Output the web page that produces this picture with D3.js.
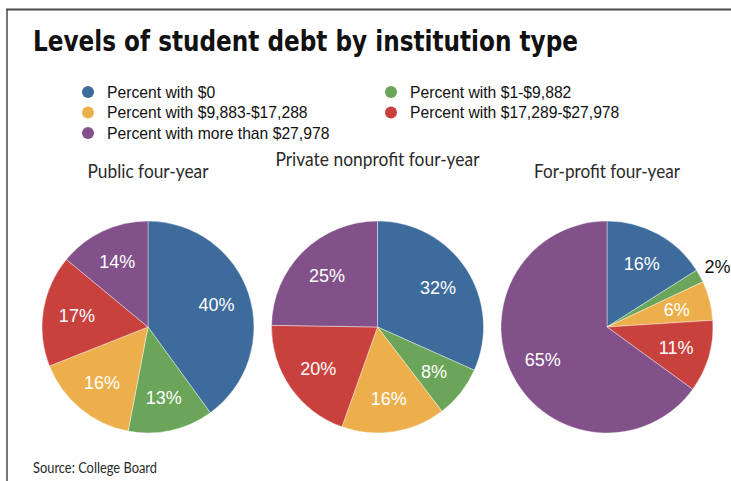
<!DOCTYPE html>
<html>
<head>
<meta charset="utf-8">
<script src="https://cdn.jsdelivr.net/npm/d3@7"></script>
<style>
  html, body { margin: 0; padding: 0; background: #fff; }
  svg { display: block; }
</style>
</head>
<body>
<svg id="chart" width="731" height="481"></svg>
<script>
// ---- Data ----
const categories = [
  "Percent with $0",
  "Percent with $1-$9,882",
  "Percent with $9,883-$17,288",
  "Percent with $17,289-$27,978",
  "Percent with more than $27,978"
];
const institutions = ["Public four-year", "Private nonprofit four-year", "For-profit four-year"];
const publicValues = [40, 13, 16, 17, 14];
const privateValues = [32, 8, 16, 20, 25];
const forProfitValues = [16, 2, 6, 11, 65];
const colors = ["#3c6b9c", "#6aa55a", "#edaf4b", "#c9413d", "#82518a"];
const titleText = "Levels of student debt by institution type";
const sourceText = "Source: College Board";

// ---- Drawing ----
const svg = d3.select("#chart");
const W = 731, H = 481;

// frame
svg.append("line").attr("x1", 6).attr("x2", W).attr("y1", 9.5).attr("y2", 9.5)
  .attr("stroke", "#4a4a4a").attr("stroke-width", 2);
svg.append("line").attr("x1", 7).attr("x2", 7).attr("y1", 9).attr("y2", H)
  .attr("stroke", "#4a4a4a").attr("stroke-width", 1.5);

// title
svg.append("text")
  .attr("x", 33).attr("y", 51)
  .attr("font-family", "'Liberation Sans Narrow', 'DejaVu Sans Condensed', 'Liberation Sans', sans-serif")
  .attr("font-weight", "bold")
  .attr("font-size", 29)
  .attr("textLength", 545)
  .attr("lengthAdjust", "spacingAndGlyphs")
  .attr("fill", "#111")
  .text(titleText);

// legend
const legendOrder = [0, 1, 2, 3, 4];
const legendCol = d3.scaleOrdinal().domain([0, 1]).range([88, 391]);
const legendRow = d3.scaleLinear().domain([0, 2]).range([92, 133]);
const legend = svg.append("g");
legendOrder.forEach((ci, i) => {
  const col = i % 2, row = Math.floor(i / 2);
  const g = legend.append("g")
    .attr("transform", `translate(${legendCol(col)},${legendRow(row)})`);
  g.append("circle").attr("r", 6).attr("fill", colors[ci]);
  g.append("text").attr("x", 19).attr("y", 0)
    .attr("dy", "0.36em")
    .attr("font-family", "'Liberation Sans', Arial, sans-serif")
    .attr("font-size", 15.7).attr("fill", "#111")
    .text(categories[ci]);
});

// pies
const allValues = [publicValues, privateValues, forProfitValues];
const centerX = d3.scalePoint().domain(institutions).range([148, 607]);
const centerY = 327;
const R = 106;
const subtitleY = [178, 166, 178];
const subtitleW = [121, 204, 146];

const pie = d3.pie().sort(null).value(d => d);
const arc = d3.arc().innerRadius(0).outerRadius(R);
const labelArc = d3.arc().innerRadius(72).outerRadius(72);
const outerLabelArc = d3.arc().innerRadius(126).outerRadius(126);

institutions.forEach((name, k) => {
  const cx = centerX(name);
  svg.append("text")
    .attr("x", cx).attr("y", subtitleY[k])
    .attr("text-anchor", "middle")
    .attr("font-family", "Lato, 'Open Sans', sans-serif")
    .attr("font-size", 18.5)
    .attr("textLength", subtitleW[k])
    .attr("lengthAdjust", "spacingAndGlyphs")
    .attr("fill", "#2a2a2a")
    .text(name);

  const g = svg.append("g").attr("transform", `translate(${cx},${centerY})`);
  const arcs = pie(allValues[k]);
  g.selectAll("path").data(arcs).join("path")
    .attr("d", arc)
    .attr("fill", (d, i) => colors[i])
    .attr("stroke", "#fff")
    .attr("stroke-width", 0.4);

  g.selectAll("text").data(arcs).join("text")
    .attr("transform", d => {
      const small = d.data < 4;
      const c = (small ? outerLabelArc : labelArc).centroid(d);
      return `translate(${c[0]},${c[1]})`;
    })
    .attr("text-anchor", "middle")
    .attr("dy", "0.36em")
    .attr("font-family", "'Liberation Sans', Arial, sans-serif")
    .attr("font-size", 18)
    .attr("fill", d => d.data < 4 ? "#111" : "#fff")
    .text(d => d.data + "%");
});

// source
svg.append("text")
  .attr("x", 33).attr("y", 473)
  .attr("font-family", "Lato, 'Open Sans', sans-serif")
  .attr("font-size", 14.5)
  .attr("textLength", 124)
  .attr("lengthAdjust", "spacingAndGlyphs")
  .attr("fill", "#2a2a2a")
  .text(sourceText);
</script>
</body>
</html>
